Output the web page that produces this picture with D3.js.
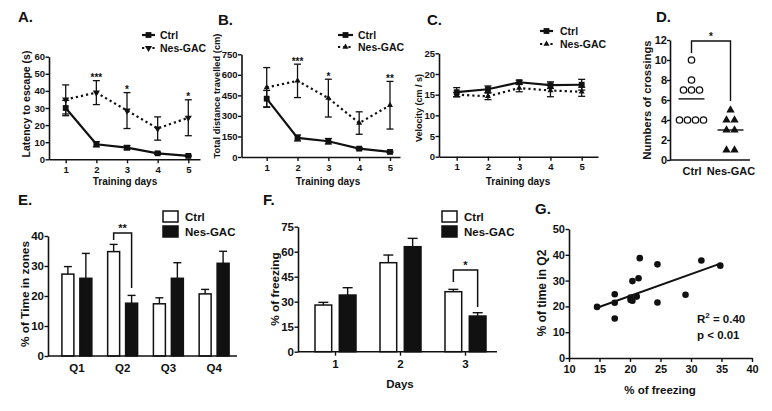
<!DOCTYPE html>
<html><head><meta charset="utf-8">
<script src="https://cdn.jsdelivr.net/npm/d3@7"></script>
<style>
body{margin:0;background:#fff}
svg text{font-family:"Liberation Sans",Arial,Helvetica,sans-serif;font-weight:bold;fill:#111}
</style></head><body>
<svg id="c" width="772" height="411"></svg>
<script>
// ---------- DATA ----------
const days = [1, 2, 3, 4, 5];
const seriesNames = ["Ctrl", "Nes-GAC"];
// A. latency
const latCtrl = [30, 8.8, 6.8, 3.5, 2.0];
const latCtrlErr = [4.5, 1.5, 1.2, 0.6, 0.4];
const latNes = [35, 39, 28.5, 18, 24.3];
const latNesErr = [8.5, 7, 10.5, 6.8, 10.5];
const latSig = ["", "***", "*", "", "*"];
const latTicks = [0, 10, 20, 30, 40, 50, 60];
// B. distance
const distCtrl = [426, 139, 115, 61, 37];
const distCtrlErr = [60, 22, 20, 8, 6];
const distNes = [508, 556, 430, 248, 378];
const distNesErr = [145, 122, 138, 82, 174];
const distSig = ["", "***", "*", "", "**"];
const distTicks = [0, 150, 300, 450, 600, 750];
// C. velocity
const velCtrl = [15.6, 16.3, 18.0, 17.3, 17.4];
const velCtrlErr = [1.1, 0.8, 0.5, 0.8, 1.3];
const velNes = [15.0, 14.6, 16.6, 16.0, 15.7];
const velNesErr = [0.5, 0.8, 0.9, 1.5, 1.1];
const velSig = ["", "", "", "", ""];
const velTicks = [0, 5, 10, 15, 20, 25];
// D. crossings
const crossCtrl = [10, 8, 7, 7, 7, 4, 4, 4, 4];
const crossNes = [5, 4, 4, 3, 3, 1, 1];
const crossTicks = [0, 2, 4, 6, 8, 10, 12];
const crossBracket = [11.9, 10.7, 5.9]; // top, left end, right end
// E. time in zones
const zones = ["Q1", "Q2", "Q3", "Q4"];
const zoneCtrl = [27.3, 34.8, 17.4, 20.7];
const zoneCtrlErr = [2.5, 2.4, 2.0, 1.5];
const zoneNes = [25.9, 17.6, 25.9, 30.9];
const zoneNesErr = [8.3, 2.6, 5.2, 4.0];
const zoneTicks = [0, 10, 20, 30, 40];
const zoneBracket = [41, 38.7, 22.7];
// F. freezing
const fDays = ["1", "2", "3"];
const frzCtrl = [28, 53.4, 36];
const frzCtrlErr = [1.6, 4.6, 1.4];
const frzNes = [34, 63, 21.4];
const frzNesErr = [4.4, 5, 2];
const frzTicks = [0, 15, 30, 45, 60, 75];
const frzBracket = [49, 41.8, 26.8];
// G. correlation
const gFreeze = [14.6, 17.5, 17.5, 17.5, 20.1, 20.1, 20.4, 20.4, 21.1, 21.4, 21.6, 24.5, 24.5, 29.1, 31.7, 34.8];
const gQ2 =     [19.8, 24.7, 21.4, 15.3, 23.4, 22.5, 22.2, 29.8, 23.8, 30.9, 38.7, 36.3, 21.5, 24.5, 37.8, 35.8];
const gFitX = [14.6, 34.8];
const gFitY = [19.5, 36.6];
const gXTicks = [10, 15, 20, 25, 30, 35, 40];
const gYTicks = [0, 10, 20, 30, 40, 50];

// ---------- DRAW ----------
const INK = "#111";
const svg = d3.select("#c");
svg.append("rect").attr("width", 772).attr("height", 411).attr("fill", "#fff");

function styleAxis(g, fs) {
  g.attr("font-family", null).attr("font-size", null);
  g.select(".domain").attr("stroke", INK).attr("stroke-width", 1.6);
  g.selectAll(".tick line").attr("stroke", INK).attr("stroke-width", 1.4);
  g.selectAll(".tick text").attr("font-size", fs).attr("fill", INK);
}
function txt(x, y, s, fs, anchor, rot) {
  const t = svg.append("text").attr("font-size", fs).attr("text-anchor", anchor || "start").text(s);
  if (rot) t.attr("transform", `translate(${x},${y}) rotate(-90)`);
  else t.attr("x", x).attr("y", y);
  return t;
}
function leftAxis(x, scale, ticks, fs) {
  const g = svg.append("g").attr("transform", `translate(${x},0)`)
    .call(d3.axisLeft(scale).tickValues(ticks).tickSize(3.5).tickPadding(0.5).tickSizeOuter(0));
  styleAxis(g, fs);
  return g;
}

function linePanel(o) {
  const step = (o.p5 - o.p1) / 4;
  const x = d3.scaleLinear().domain([1 - (o.p1 - o.left) / step, 5 + (o.right - o.p5) / step]).range([o.left, o.right]);
  const y = d3.scaleLinear().domain([0, o.ticks[o.ticks.length - 1]]).range([o.bottom, o.top]);
  leftAxis(o.left, y, o.ticks, o.tfs);
  const gx = svg.append("g").attr("transform", `translate(0,${o.bottom})`)
    .call(d3.axisBottom(x).tickValues(days).tickSize(4).tickPadding(3).tickSizeOuter(0).tickFormat(d3.format("d")));
  styleAxis(gx, o.tfs);

  const line = d3.line().x((d, i) => x(days[i])).y(d => y(d));
  svg.append("path").datum(o.nes).attr("d", line).attr("fill", "none").attr("stroke", INK)
    .attr("stroke-width", 2.2).attr("stroke-dasharray", "2.2,3");
  svg.append("path").datum(o.ctrl).attr("d", line).attr("fill", "none").attr("stroke", INK).attr("stroke-width", 2.2);

  function errbars(vals, errs) {
    const g = svg.append("g").attr("stroke", INK).attr("stroke-width", 1.3);
    vals.forEach((v, i) => {
      const cx = x(days[i]), y1 = y(v + errs[i]), y0 = y(v - errs[i]);
      g.append("line").attr("x1", cx).attr("x2", cx).attr("y1", y1).attr("y2", y0);
      g.append("line").attr("x1", cx - 3.5).attr("x2", cx + 3.5).attr("y1", y1).attr("y2", y1);
      g.append("line").attr("x1", cx - 3.5).attr("x2", cx + 3.5).attr("y1", y0).attr("y2", y0);
    });
  }
  errbars(o.nes, o.nesErr);
  errbars(o.ctrl, o.ctrlErr);
  const sq = d3.symbol(d3.symbolSquare, 34)();
  const tri = d3.symbol(d3.symbolTriangle, o.triSize)();
  o.nes.forEach((v, i) => svg.append("path").attr("d", tri).attr("fill", INK)
    .attr("transform", `translate(${x(days[i])},${y(v)}) rotate(${o.triDown ? 180 : 0})`));
  o.ctrl.forEach((v, i) => svg.append("path").attr("d", sq).attr("fill", INK)
    .attr("transform", `translate(${x(days[i])},${y(v)})`));
  o.sig.forEach((s, i) => {
    if (!s) return;
    txt(x(days[i]), y(o.nes[i] + o.nesErr[i]) + 0.5, s, 10, "middle");
  });
  const L = o.leg;
  svg.append("line").attr("x1", L.x0).attr("x2", L.x1).attr("y1", L.y0).attr("y2", L.y0).attr("stroke", INK).attr("stroke-width", 2.2);
  svg.append("path").attr("d", sq).attr("fill", INK).attr("transform", `translate(${(L.x0 + L.x1) / 2},${L.y0})`);
  svg.append("line").attr("x1", L.x0).attr("x2", L.x1).attr("y1", L.y1).attr("y2", L.y1).attr("stroke", INK)
    .attr("stroke-width", 2.2).attr("stroke-dasharray", "2.2,3");
  svg.append("path").attr("d", tri).attr("fill", INK)
    .attr("transform", `translate(${(L.x0 + L.x1) / 2},${L.y1}) rotate(${o.triDown ? 180 : 0})`);
  txt(L.tx, L.y0 + 3.8, seriesNames[0], 10.5);
  txt(L.tx, L.y1 + 3.8, seriesNames[1], 10.5);
  txt(o.ylx, o.yly, o.ylabel, o.yfs, "middle", true);
  txt(o.xlx, 185, "Training days", 10, "middle");
  txt(o.tx, o.ty, o.title, 15);
}

linePanel({left: 49, right: 200, p1: 65.7, p5: 188.3, bottom: 159.3, top: 56.7, ticks: latTicks, tfs: 9.5,
  ctrl: latCtrl, ctrlErr: latCtrlErr, nes: latNes, nesErr: latNesErr, sig: latSig, triDown: true, triSize: 22,
  leg: {x0: 142, x1: 155, y0: 35, y1: 48, tx: 160},
  ylabel: "Latency to escape (s)", ylx: 30, yly: 104, yfs: 10.5, xlx: 125, title: "A.", tx: 18, ty: 22});
linePanel({left: 241.5, right: 400, p1: 266.7, p5: 390, bottom: 157, top: 54.3, ticks: distTicks, tfs: 9.5,
  ctrl: distCtrl, ctrlErr: distCtrlErr, nes: distNes, nesErr: distNesErr, sig: distSig, triDown: false, triSize: 16,
  leg: {x0: 338, x1: 353, y0: 35, y1: 47, tx: 358},
  ylabel: "Total distance travelled (cm)", ylx: 219.5, yly: 96, yfs: 9.3, xlx: 328, title: "B.", tx: 218, ty: 25});
linePanel({left: 439, right: 598, p1: 456.7, p5: 581.7, bottom: 156.7, top: 53.3, ticks: velTicks, tfs: 9.5,
  ctrl: velCtrl, ctrlErr: velCtrlErr, nes: velNes, nesErr: velNesErr, sig: velSig, triDown: false, triSize: 16,
  leg: {x0: 540, x1: 553, y0: 31, y1: 44, tx: 560},
  ylabel: "Velocity (cm / s)", ylx: 422, yly: 108, yfs: 9, xlx: 518, title: "C.", tx: 427, ty: 25});

// ---------- D ----------
(function () {
  const left = 670, right = 750, bottom = 160, top = 40;
  const y = d3.scaleLinear().domain([0, 12]).range([bottom, top]);
  const x = d3.scalePoint().domain(seriesNames).range([672, 750]).padding(0.5);
  const gy = svg.append("g").attr("transform", `translate(${left},0)`)
    .call(d3.axisLeft(y).tickValues(crossTicks).tickSize(3).tickPadding(0).tickSizeOuter(0));
  styleAxis(gy, 11);
  const gx = svg.append("g").attr("transform", `translate(0,${bottom})`)
    .call(d3.axisBottom(x).tickSize(0).tickPadding(7));
  styleAxis(gx, 11);
  gx.select(".domain").remove();
  svg.append("line").attr("x1", left).attr("x2", right).attr("y1", bottom).attr("y2", bottom).attr("stroke", INK).attr("stroke-width", 1.6);

  function spread(vals) {
    const cnt = d3.rollup(vals, v => v.length, d => d);
    const seen = new Map();
    return vals.map(v => {
      const n = cnt.get(v), k = seen.get(v) || 0; seen.set(v, k + 1);
      return {v, off: (k - (n - 1) / 2) * 8};
    });
  }
  const cx = x("Ctrl"), nx = x("Nes-GAC");
  spread(crossCtrl).forEach(p => svg.append("circle").attr("cx", cx + p.off).attr("cy", y(p.v)).attr("r", 3.2)
    .attr("fill", "#fff").attr("stroke", INK).attr("stroke-width", 1.3));
  const tri = d3.symbol(d3.symbolTriangle, 30)();
  spread(crossNes).forEach(p => svg.append("path").attr("d", tri).attr("fill", INK)
    .attr("transform", `translate(${nx + p.off},${y(p.v)})`));
  svg.append("line").attr("x1", cx - 13).attr("x2", cx + 13).attr("y1", y(d3.mean(crossCtrl))).attr("y2", y(d3.mean(crossCtrl)))
    .attr("stroke", INK).attr("stroke-width", 1.4);
  svg.append("line").attr("x1", nx - 13).attr("x2", nx + 13).attr("y1", y(d3.mean(crossNes))).attr("y2", y(d3.mean(crossNes)))
    .attr("stroke", INK).attr("stroke-width", 1.4);
  svg.append("path").attr("d", `M${cx},${y(crossBracket[1])}V${y(crossBracket[0])}H${nx}V${y(crossBracket[2])}`)
    .attr("fill", "none").attr("stroke", INK).attr("stroke-width", 1.4);
  txt((cx + nx) / 2, y(crossBracket[0]) - 1, "*", 10, "middle");
  txt(651, 100, "Numbers of crossings", 11.3, "middle", true);
  txt(656, 22, "D.", 15);
})();

// ---------- bar panels ----------
function barPanel(o) {
  const y = d3.scaleLinear().domain([0, o.ticks[o.ticks.length - 1]]).range([o.bottom, o.top]);
  const x0 = d3.scaleBand().domain(o.cats).range(o.band);
  const x1 = d3.scaleBand().domain(seriesNames).range([0, x0.bandwidth()]).paddingInner(o.pi).paddingOuter(o.po);
  leftAxis(o.left, y, o.ticks, 11.5);
  const gx = svg.append("g").attr("transform", `translate(0,${o.bottom})`)
    .call(d3.axisBottom(x0).tickSize(o.xtick).tickPadding(o.xpad).tickSizeOuter(0));
  styleAxis(gx, 11.5);
  gx.select(".domain").remove();
  const series = [[o.ctrl, o.ctrlErr, "#fff"], [o.nes, o.nesErr, INK]];
  series.forEach(([vals, errs, fill], si) => {
    vals.forEach((v, i) => {
      const bx = x0(o.cats[i]) + x1(seriesNames[si]), bw = x1.bandwidth(), c = bx + bw / 2;
      const et = y(v + errs[i]);
      svg.append("line").attr("x1", c).attr("x2", c).attr("y1", y(v)).attr("y2", et).attr("stroke", INK).attr("stroke-width", 1.4);
      svg.append("line").attr("x1", c - o.cap).attr("x2", c + o.cap).attr("y1", et).attr("y2", et).attr("stroke", INK).attr("stroke-width", 1.4);
      svg.append("rect").attr("x", bx).attr("y", y(v)).attr("width", bw).attr("height", y(0) - y(v))
        .attr("fill", fill).attr("stroke", INK).attr("stroke-width", 1.5);
    });
  });
  svg.append("line").attr("x1", o.left).attr("x2", o.right).attr("y1", o.bottom).attr("y2", o.bottom).attr("stroke", INK).attr("stroke-width", 1.6);
  const bi = o.bracketCat;
  const bc = x0(o.cats[bi]) + x1("Ctrl") + x1.bandwidth() / 2;
  const bn = x0(o.cats[bi]) + x1("Nes-GAC") + x1.bandwidth() / 2;
  svg.append("path").attr("d", `M${bc},${y(o.bracket[1])}V${y(o.bracket[0])}H${bn}V${y(o.bracket[2])}`)
    .attr("fill", "none").attr("stroke", INK).attr("stroke-width", 1.5);
  txt((bc + bn) / 2, y(o.bracket[0]) - 1, o.sig, 11, "middle");
  const L = o.leg;
  svg.append("rect").attr("x", L.x).attr("y", L.y0).attr("width", 15).attr("height", 11).attr("fill", "#fff").attr("stroke", INK).attr("stroke-width", 1.5);
  svg.append("rect").attr("x", L.x).attr("y", L.y1).attr("width", 15).attr("height", 11).attr("fill", INK).attr("stroke", INK).attr("stroke-width", 1.5);
  txt(L.x + 22, L.y0 + 10, seriesNames[0], 11.5);
  txt(L.x + 22, L.y1 + 10, seriesNames[1], 11.5);
  txt(o.ylx, o.yly, o.ylabel, 11.8, "middle", true);
  if (o.xlabel) txt(o.xlx, o.xly, o.xlabel, 11.5, "middle");
  txt(o.tx, o.ty, o.title, 15);
}

barPanel({cats: zones, band: [54, 237], pi: 0.333, po: 0.44, left: 48, right: 237, bottom: 356, top: 236,
  ticks: zoneTicks, ctrl: zoneCtrl, ctrlErr: zoneCtrlErr, nes: zoneNes, nesErr: zoneNesErr, cap: 4,
  xtick: 0, xpad: 8, bracketCat: 1, bracket: zoneBracket, sig: "**",
  leg: {x: 163, y0: 211, y1: 226}, ylabel: "% of Time in zones", ylx: 29, yly: 294,
  title: "E.", tx: 18, ty: 205});
barPanel({cats: fDays, band: [303, 498], pi: 0.313, po: 0.494, left: 298, right: 497, bottom: 351.7, top: 226.7,
  ticks: frzTicks, ctrl: frzCtrl, ctrlErr: frzCtrlErr, nes: frzNes, nesErr: frzNesErr, cap: 5,
  xtick: 4, xpad: 4, bracketCat: 2, bracket: frzBracket, sig: "*",
  leg: {x: 442, y0: 211, y1: 226}, ylabel: "% of freezing", ylx: 279, yly: 289,
  xlabel: "Days", xlx: 400, xly: 388, title: "F.", tx: 263, ty: 205});

// ---------- G ----------
(function () {
  const x = d3.scaleLinear().domain([10, 40]).range([569, 752]);
  const y = d3.scaleLinear().domain([0, 50]).range([358, 229]);
  leftAxis(569, y, gYTicks, 11);
  const gx = svg.append("g").attr("transform", `translate(0,358)`)
    .call(d3.axisBottom(x).tickValues(gXTicks).tickSize(4).tickPadding(3).tickSizeOuter(0));
  styleAxis(gx, 11);
  gFreeze.forEach((v, i) => svg.append("circle").attr("cx", x(v)).attr("cy", y(gQ2[i])).attr("r", 3.3).attr("fill", INK));
  svg.append("line").attr("x1", x(gFitX[0])).attr("x2", x(gFitX[1])).attr("y1", y(gFitY[0])).attr("y2", y(gFitY[1]))
    .attr("stroke", INK).attr("stroke-width", 2);
  const r = txt(697, 323, "R", 11.5);
  r.append("tspan").attr("font-size", 8).attr("dy", -5).text("2");
  r.append("tspan").attr("dy", 5).text(" = 0.40");
  txt(697, 339, "p < 0.01", 11.5);
  txt(546, 293, "% of time in Q2", 12, "middle", true);
  txt(660, 394, "% of freezing", 11.5, "middle");
  txt(535, 214, "G.", 15);
})();
</script>
</body></html>
